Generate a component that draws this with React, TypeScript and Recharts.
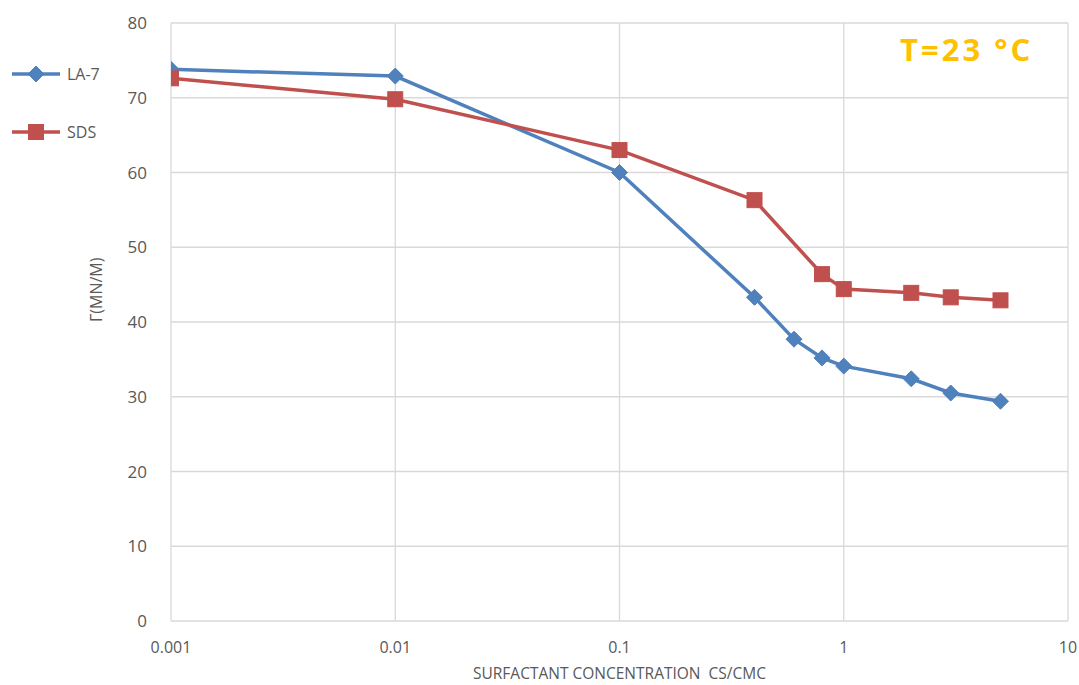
import { LineChart, Line, XAxis, YAxis, CartesianGrid } from "recharts";

const concentrations = [0.001, 0.01, 0.1, 0.4, 0.6, 0.8, 1, 2, 3, 5];
const la7Values = [73.8, 72.9, 60.0, 43.3, 37.7, 35.2, 34.1, 32.4, 30.5, 29.4];
const sdsValues = [72.6, 69.8, 63.0, 56.3, null, 46.4, 44.4, 43.9, 43.3, 42.9];
const xTicks = [0.001, 0.01, 0.1, 1, 10];
const yTicks = [0, 10, 20, 30, 40, 50, 60, 70, 80];

const BLUE = "#4F81BD";
const RED = "#C0504D";
const FONT = "'Open Sans', sans-serif";

const chartData = concentrations.map((c, i) => ({
  c,
  la7: la7Values[i],
  sds: sdsValues[i],
}));

function Diamond(props: any) {
  const { cx, cy } = props;
  if (cx == null || cy == null) return null;
  const r = 8;
  return (
    <path
      d={`M${cx},${cy - r} L${cx + r},${cy} L${cx},${cy + r} L${cx - r},${cy} Z`}
      fill={BLUE}
      stroke={BLUE}
      strokeWidth={1}
    />
  );
}

function Square(props: any) {
  const { cx, cy } = props;
  if (cx == null || cy == null) return null;
  const s = 7.5;
  return <rect x={cx - s} y={cy - s} width={s * 2} height={s * 2} fill={RED} stroke={RED} strokeWidth={1} />;
}

function formatTick(v: number): string {
  if (v >= 1) return String(v);
  return v.toFixed(Math.round(-Math.log10(v)));
}

export default function App() {
  return (
    <div style={{ position: "absolute", left: 0, top: 0, width: 1079, height: 685, background: "#fff", fontFamily: FONT }}>
      <LineChart width={1079} height={685} data={chartData} margin={{ top: 23, right: 11, left: 0, bottom: 0 }}>
        <CartesianGrid stroke="#D9D9D9" strokeWidth={1.3} />
        <XAxis
          dataKey="c"
          type="number"
          scale="log"
          domain={[0.001, 10]}
          ticks={xTicks}
          tickFormatter={formatTick}
          allowDataOverflow
          axisLine={false}
          tickLine={false}
          height={64}
          tick={{ fontSize: 16, fill: "#595959", fontFamily: FONT }}
          tickMargin={15}
          label={{ value: "SURFACTANT CONCENTRATION\u00a0\u00a0CS/CMC", position: "insideBottom", offset: 6, fill: "#595959", fontSize: 15.5, fontFamily: FONT }}
        />
        <YAxis
          type="number"
          domain={[0, 80]}
          ticks={yTicks}
          axisLine={false}
          tickLine={false}
          width={171}
          tick={{ fontSize: 17, fill: "#595959", fontFamily: FONT }}
          tickMargin={18}
          label={{ value: "Γ(MN/M)", angle: -90, position: "insideLeft", offset: 96, fill: "#595959", fontSize: 16, fontFamily: FONT }}
        />
        <Line
          dataKey="la7"
          stroke={BLUE}
          strokeWidth={3.5}
          dot={<Diamond />}
          activeDot={false}
          isAnimationActive={false}
          connectNulls
        />
        <Line
          dataKey="sds"
          stroke={RED}
          strokeWidth={3.5}
          dot={<Square />}
          activeDot={false}
          isAnimationActive={false}
          connectNulls
        />
      </LineChart>
      <div style={{ position: "absolute", left: 900, top: 28, fontSize: 31, fontWeight: "bold", color: "#FFC000", fontFamily: FONT, letterSpacing: 3, whiteSpace: "pre" }}>
        {"T=23 °C"}
      </div>
      <div style={{ position: "absolute", left: 10, top: 63, display: "flex", alignItems: "center", gap: 5, fontSize: 16, color: "#595959" }}>
        <svg width={52} height={18}>
          <line x1={2} y1={9} x2={50} y2={9} stroke={BLUE} strokeWidth={3.5} />
          <Diamond cx={26} cy={9} />
        </svg>
        <span>LA-7</span>
      </div>
      <div style={{ position: "absolute", left: 10, top: 121, display: "flex", alignItems: "center", gap: 5, fontSize: 16, color: "#595959" }}>
        <svg width={52} height={18}>
          <line x1={2} y1={9} x2={50} y2={9} stroke={RED} strokeWidth={3.5} />
          <Square cx={26} cy={9} />
        </svg>
        <span>SDS</span>
      </div>
    </div>
  );
}
